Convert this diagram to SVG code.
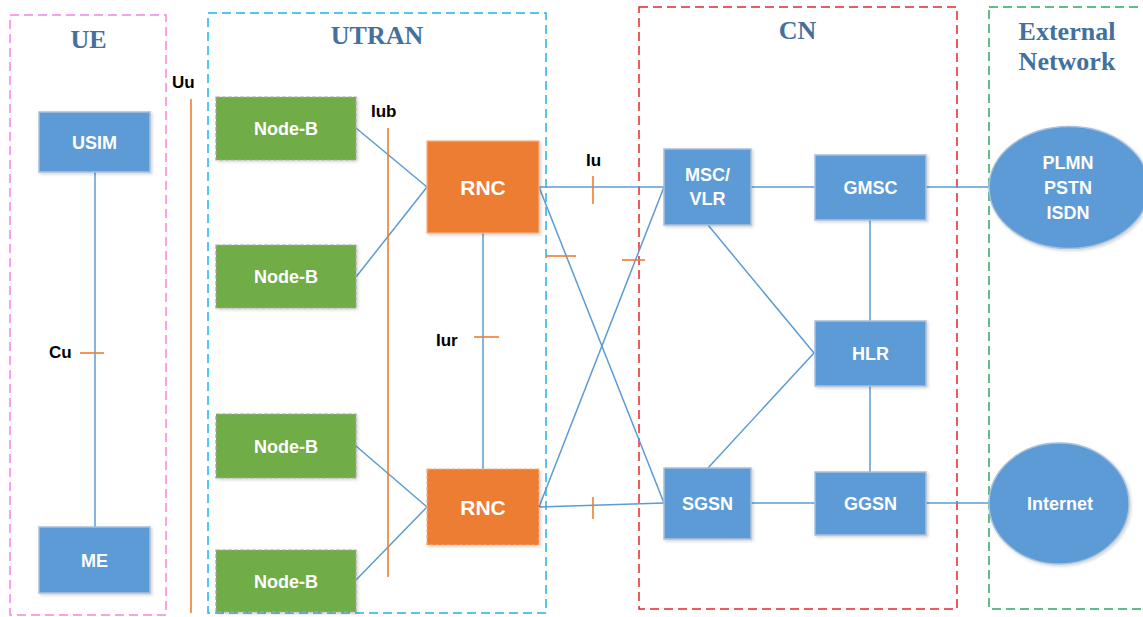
<svg xmlns="http://www.w3.org/2000/svg" width="1143" height="617" viewBox="0 0 1143 617">
<defs>
<filter id="sh" x="-10%" y="-10%" width="125%" height="125%">
<feDropShadow dx="1.5" dy="1.5" stdDeviation="1.5" flood-color="#000" flood-opacity="0.18"/>
</filter>
</defs>
<style>
.zone{fill:none;stroke-width:1.5;stroke-dasharray:9 5}
.title{font-family:"Liberation Serif",serif;font-weight:bold;font-size:26px;fill:#44709d;text-anchor:middle}
.blue{fill:#5b9bd5;stroke:#a9c0da;stroke-width:1.5;filter:url(#sh)}
.green{fill:#70ad47;stroke:#a6a6a6;stroke-width:1.2;stroke-dasharray:4 2;filter:url(#sh)}
.orange{fill:#ed7d31;stroke:#f4b183;stroke-width:1.2;filter:url(#sh)}
.lbl{font-family:"Liberation Sans",Arial,sans-serif;font-weight:bold;font-size:18px;fill:#fff;text-anchor:middle}
.big{font-size:21px}
.if{font-family:"Liberation Sans",Arial,sans-serif;font-weight:bold;font-size:17px;fill:#000}
.ln{stroke:#5b9bd5;stroke-width:1.5;fill:none}
.tk{stroke:#ed7d31;stroke-width:1.6;fill:none}
</style>

<g id="zones">
<rect class="zone" x="10" y="15" width="156" height="600" stroke="#f684e6"/>
<rect class="zone" x="208" y="13" width="338" height="600" stroke="#22b1ec"/>
<rect class="zone" x="639" y="7" width="318" height="602" stroke="#e8262a"/>
<rect class="zone" x="989" y="7" width="160" height="602" stroke="#2fa660"/>
<text class="title" x="88.5" y="48">UE</text>
<text class="title" x="377" y="44">UTRAN</text>
<text class="title" x="797.5" y="39">CN</text>
<text class="title" x="1067" y="40">External</text>
<text class="title" x="1067" y="70">Network</text>
</g>

<g id="connectors">
<line class="ln" x1="95" y1="172" x2="95" y2="527"/>
<line class="ln" x1="356" y1="128" x2="427" y2="187"/>
<line class="ln" x1="356" y1="277" x2="427" y2="187"/>
<line class="ln" x1="356" y1="446" x2="427" y2="507"/>
<line class="ln" x1="356" y1="580" x2="427" y2="507"/>
<line class="ln" x1="483" y1="233" x2="483" y2="469"/>
<line class="ln" x1="539" y1="187" x2="664" y2="187"/>
<line class="ln" x1="539" y1="187" x2="664" y2="503"/>
<line class="ln" x1="539" y1="507" x2="664" y2="187"/>
<line class="ln" x1="539" y1="507" x2="664" y2="503"/>
<line class="ln" x1="751" y1="187" x2="815" y2="187"/>
<line class="ln" x1="926" y1="187" x2="990" y2="187"/>
<line class="ln" x1="870" y1="220" x2="870" y2="321"/>
<line class="ln" x1="870" y1="386" x2="870" y2="472"/>
<line class="ln" x1="708" y1="225" x2="814" y2="353"/>
<line class="ln" x1="708" y1="468" x2="814" y2="353"/>
<line class="ln" x1="751" y1="503" x2="815" y2="503"/>
<line class="ln" x1="926" y1="503" x2="990" y2="503"/>
<line class="tk" x1="80" y1="353" x2="104" y2="353"/>
<line class="tk" x1="191" y1="99" x2="191" y2="613"/>
<line class="tk" x1="388" y1="128" x2="388" y2="577"/>
<line class="tk" x1="474" y1="337" x2="499" y2="337"/>
<line class="tk" x1="593" y1="176" x2="593" y2="204"/>
<line class="tk" x1="546" y1="256" x2="576" y2="256"/>
<line class="tk" x1="622" y1="260" x2="645" y2="260"/>
<line class="tk" x1="593" y1="497" x2="593" y2="519"/>
<text class="if" x="49" y="358">Cu</text>
<text class="if" x="172" y="88">Uu</text>
<text class="if" x="371" y="117">Iub</text>
<text class="if" x="436" y="346">Iur</text>
<text class="if" x="586" y="166">Iu</text>
</g>

<g id="usim"><rect class="blue" x="39" y="112" width="111" height="60"/><text class="lbl" x="94.5" y="148.5">USIM</text></g>
<g id="me"><rect class="blue" x="39" y="527" width="111" height="66"/><text class="lbl" x="94.5" y="566.5">ME</text></g>

<g id="nodeb1"><rect class="green" x="216" y="97" width="140" height="63"/><text class="lbl" x="286" y="135">Node-B</text></g>
<g id="nodeb2"><rect class="green" x="216" y="245" width="140" height="63"/><text class="lbl" x="286" y="283">Node-B</text></g>
<g id="nodeb3"><rect class="green" x="216" y="414" width="140" height="64"/><text class="lbl" x="286" y="452.5">Node-B</text></g>
<g id="nodeb4"><rect class="green" x="216" y="550" width="140" height="62"/><text class="lbl" x="286" y="587.5">Node-B</text></g>

<g id="rnc1"><rect class="orange" x="427" y="141" width="112" height="92"/><text class="lbl big" x="483" y="194.5">RNC</text></g>
<g id="rnc2"><rect class="orange" x="427" y="469" width="112" height="76" style="stroke-dasharray:4 2"/><text class="lbl big" x="483" y="514.5">RNC</text></g>

<g id="msc"><rect class="blue" x="664" y="149" width="87" height="76"/><text class="lbl" x="707.5" y="181">MSC/</text><text class="lbl" x="707.5" y="205">VLR</text></g>
<g id="gmsc"><rect class="blue" x="815" y="155" width="111" height="65"/><text class="lbl" x="870.5" y="194">GMSC</text></g>
<g id="hlr"><rect class="blue" x="815" y="321" width="111" height="65"/><text class="lbl" x="870.5" y="360">HLR</text></g>
<g id="sgsn"><rect class="blue" x="664" y="468" width="87" height="71"/><text class="lbl" x="707.5" y="510">SGSN</text></g>
<g id="ggsn"><rect class="blue" x="815" y="472" width="111" height="63"/><text class="lbl" x="870.5" y="510">GGSN</text></g>

<g id="plmn"><ellipse class="blue" cx="1069" cy="187.5" rx="80" ry="61"/><text class="lbl" x="1068" y="169">PLMN</text><text class="lbl" x="1068" y="194">PSTN</text><text class="lbl" x="1068" y="219">ISDN</text></g>
<g id="internet"><ellipse class="blue" cx="1059" cy="503.5" rx="70" ry="60.5"/><text class="lbl" x="1060" y="510">Internet</text></g>
</svg>
